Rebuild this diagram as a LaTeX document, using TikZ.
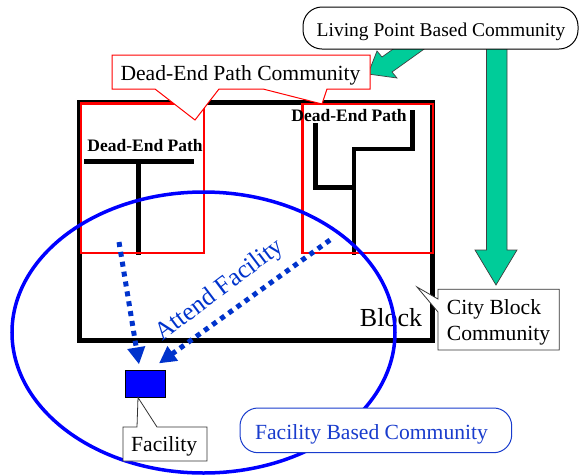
\documentclass[tikz,border=0pt]{standalone}
\usepackage{fontspec}
\setmainfont{Liberation Serif}
\usetikzlibrary{arrows.meta}
\definecolor{livegreen}{RGB}{0,204,153}
\definecolor{attendblue}{RGB}{0,51,204}
\definecolor{facblue}{RGB}{0,0,255}
\definecolor{basedblue}{RGB}{25,60,205}
\begin{document}
\begin{tikzpicture}[x=1pt,y=-1pt,
  wall/.style={line width=5pt},
  deadpath/.style={line width=4.5pt},
  redbox/.style={draw=red,line width=2.5pt},
  callbox/.style={draw=black!80,fill=white,line width=0.8pt},
  bigarrow/.style={draw=black!75,fill=livegreen,line width=0.7pt},
  attend/.style={attendblue,line width=5pt,dash pattern=on 5pt off 5pt,-{Triangle[length=17pt,width=17pt]}},
  pathlabel/.style={font=\bfseries\fontsize{17.5}{20}\selectfont,anchor=base,inner sep=0pt},
  txt/.style={font=\fontsize{21.6}{26}\selectfont,anchor=base,inner sep=0pt}]
\useasboundingbox (0,0) rectangle (579,475);

% arrows of the living point community
\filldraw[bigarrow] (368,74) -- (377,51) -- (382,57) -- (431,22) -- (441,37) -- (392,72) -- (397,78) -- cycle;
\filldraw[bigarrow] (486.5,40) -- (507,40) -- (507,250) -- (517,250) -- (496,285) -- (475,250) -- (486.5,250) -- cycle;
\draw[draw=black,fill=white,line width=1pt,rounded corners=19pt] (303,7) rectangle (578,49);
\node[txt,font=\fontsize{19.5}{22}\selectfont] (living) at (441,36.7) {Living Point Based Community};

% the block
\draw[wall] (79.5,102) rectangle (432.5,340);
\draw[deadpath] (84,161.7) -- (194,161.7);
\draw[deadpath] (138.7,161.7) -- (138.7,255);
\draw[deadpath] (315.7,123) -- (315.7,187.3) -- (354,187.3);
\draw[deadpath] (412.7,110) -- (412.7,149) -- (354,149) -- (354,255);
\draw[redbox] (81,103.5) rectangle (204,253);
\draw[redbox] (302.5,104) rectangle (433,253);
\node[pathlabel] (leftpath) at (145,151) {Dead-End Path};
\node[pathlabel] (rightpath) at (349,121) {Dead-End Path};
\node[txt,font=\fontsize{26}{30}\selectfont] (block) at (391,326.7) {Block};

% dead-end path community callout
\filldraw[draw=red,fill=white,line width=1pt] (112,55) -- (370,55) -- (370,89) -- (327,89) -- (322,104) -- (263,89) -- (219,89) -- (195,120) -- (155,89) -- (112,89) -- cycle;
\node[txt] (deadcomm) at (240.5,80) {Dead-End Path Community};

% facility based community
\draw[facblue,line width=3.5pt] (203.5,332.5) ellipse [x radius=191.5pt, y radius=140.5pt];
\node[draw=black,fill=facblue,line width=0.8pt,minimum width=40pt,minimum height=26.5pt,inner sep=0pt] (fac) at (145,384) {};
\coordinate (startA) at (119,242);
\coordinate (startB) at (330,240);
\coordinate (tipA) at ([shift={(-6,-6)}]fac.north);
\coordinate (tipB) at ([shift={(14,-7)}]fac.north);
\draw[attend] (startA) -- (tipA);
\draw[attend] (startB) -- (tipB);
\node[txt,anchor=base west,font=\fontsize{25.5}{28}\selectfont,text=attendblue,rotate=37] (attendtxt) at (162,342) {Attend Facility};

% callouts
\filldraw[callbox] (123,427) -- (137,427) -- (138,397.5) -- (157,427) -- (207,427) -- (207,461) -- (123,461) -- cycle;
\node[txt] (factxt) at (164.2,451.7) {Facility};
\filldraw[callbox] (438,289.3) -- (559.3,289.3) -- (559.3,350) -- (438,350) -- (438,312) -- (417,287) -- (438,299) -- cycle;
\node[txt,anchor=base west] (cityA) at (446.7,314) {City Block};
\node[txt,anchor=base west] (cityB) at (446.7,340) {Community};
\draw[draw=basedblue,fill=white,line width=1pt,rounded corners=18pt] (240,408) rectangle (511.7,452.7);
\node[txt,text=basedblue] (based) at (371.5,439.3) {Facility Based Community};
\end{tikzpicture}
\end{document}
